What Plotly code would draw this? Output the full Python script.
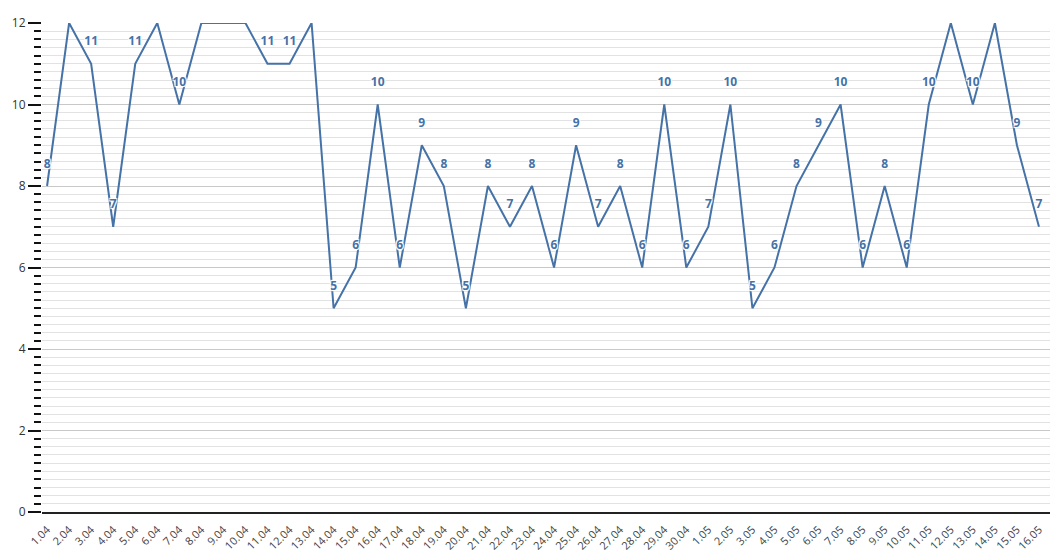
import plotly.graph_objects as go

dates = ["1.04", "2.04", "3.04", "4.04", "5.04", "6.04", "7.04", "8.04", "9.04", "10.04",
         "11.04", "12.04", "13.04", "14.04", "15.04", "16.04", "17.04", "18.04", "19.04", "20.04",
         "21.04", "22.04", "23.04", "24.04", "25.04", "26.04", "27.04", "28.04", "29.04", "30.04",
         "1.05", "2.05", "3.05", "4.05", "5.05", "6.05", "7.05", "8.05", "9.05", "10.05",
         "11.05", "12.05", "13.05", "14.05", "15.05", "16.05"]
values = [8, 12, 11, 7, 11, 12, 10, 12, 12, 12,
          11, 11, 12, 5, 6, 10, 6, 9, 8, 5,
          8, 7, 8, 6, 9, 7, 8, 6, 10, 6,
          7, 10, 5, 6, 8, 9, 10, 6, 8, 6,
          10, 12, 10, 12, 9, 7]
y_ticks = [0, 2, 4, 6, 8, 10, 12]

color = "#4572A7"
halo = "1px 1px 1px white, -1px -1px 1px white, 1px -1px 1px white, -1px 1px 1px white, 0 0 2px white"

# labels for points at the axis maximum fall outside the plot and are clipped in the reference
labels = [str(v) if v < max(y_ticks) else "" for v in values]

fig = go.Figure()
fig.add_trace(go.Scatter(
    x=dates, y=values,
    mode="lines+markers+text",
    line=dict(color=color, width=2),
    marker=dict(size=23, opacity=0, color=color),
    text=labels,
    textposition="top center",
    textfont=dict(family="Open Sans, DejaVu Sans, sans-serif", size=12, color=color,
                  weight="bold", shadow=halo),
    cliponaxis=True,
    hoverinfo="x+y",
))

# page body has an 8px default margin, so the figure is sized to fit the window
fig.update_layout(
    width=1054, height=549,
    margin=dict(l=34, r=12, t=15, b=45),
    paper_bgcolor="white", plot_bgcolor="white",
    showlegend=False,
    font=dict(family="Open Sans, DejaVu Sans, sans-serif", color="#333333"),
)
fig.update_xaxes(
    type="category",
    range=[-0.23, 45.5],
    tickangle=-45,
    tickfont=dict(size=11, color="#444444"),
    ticklabelstandoff=5,
    showgrid=False,
    showline=True, linecolor="#222222", linewidth=2,
    ticks="", zeroline=False,
    automargin=False,
)
fig.update_yaxes(
    range=[0, 12],
    tickvals=y_ticks,
    tickfont=dict(size=12, color="#333333"),
    showgrid=True, gridcolor="#c8c8c8", gridwidth=1,
    ticks="outside", ticklen=13, tickcolor="#111111", tickwidth=2,
    minor=dict(dtick=0.2, showgrid=True, gridcolor="#e2e2e2", gridwidth=1,
               ticks="outside", ticklen=7, tickcolor="#111111", tickwidth=1.5),
    showline=False, zeroline=False,
    automargin=False,
)

fig.write_html("out.html")
